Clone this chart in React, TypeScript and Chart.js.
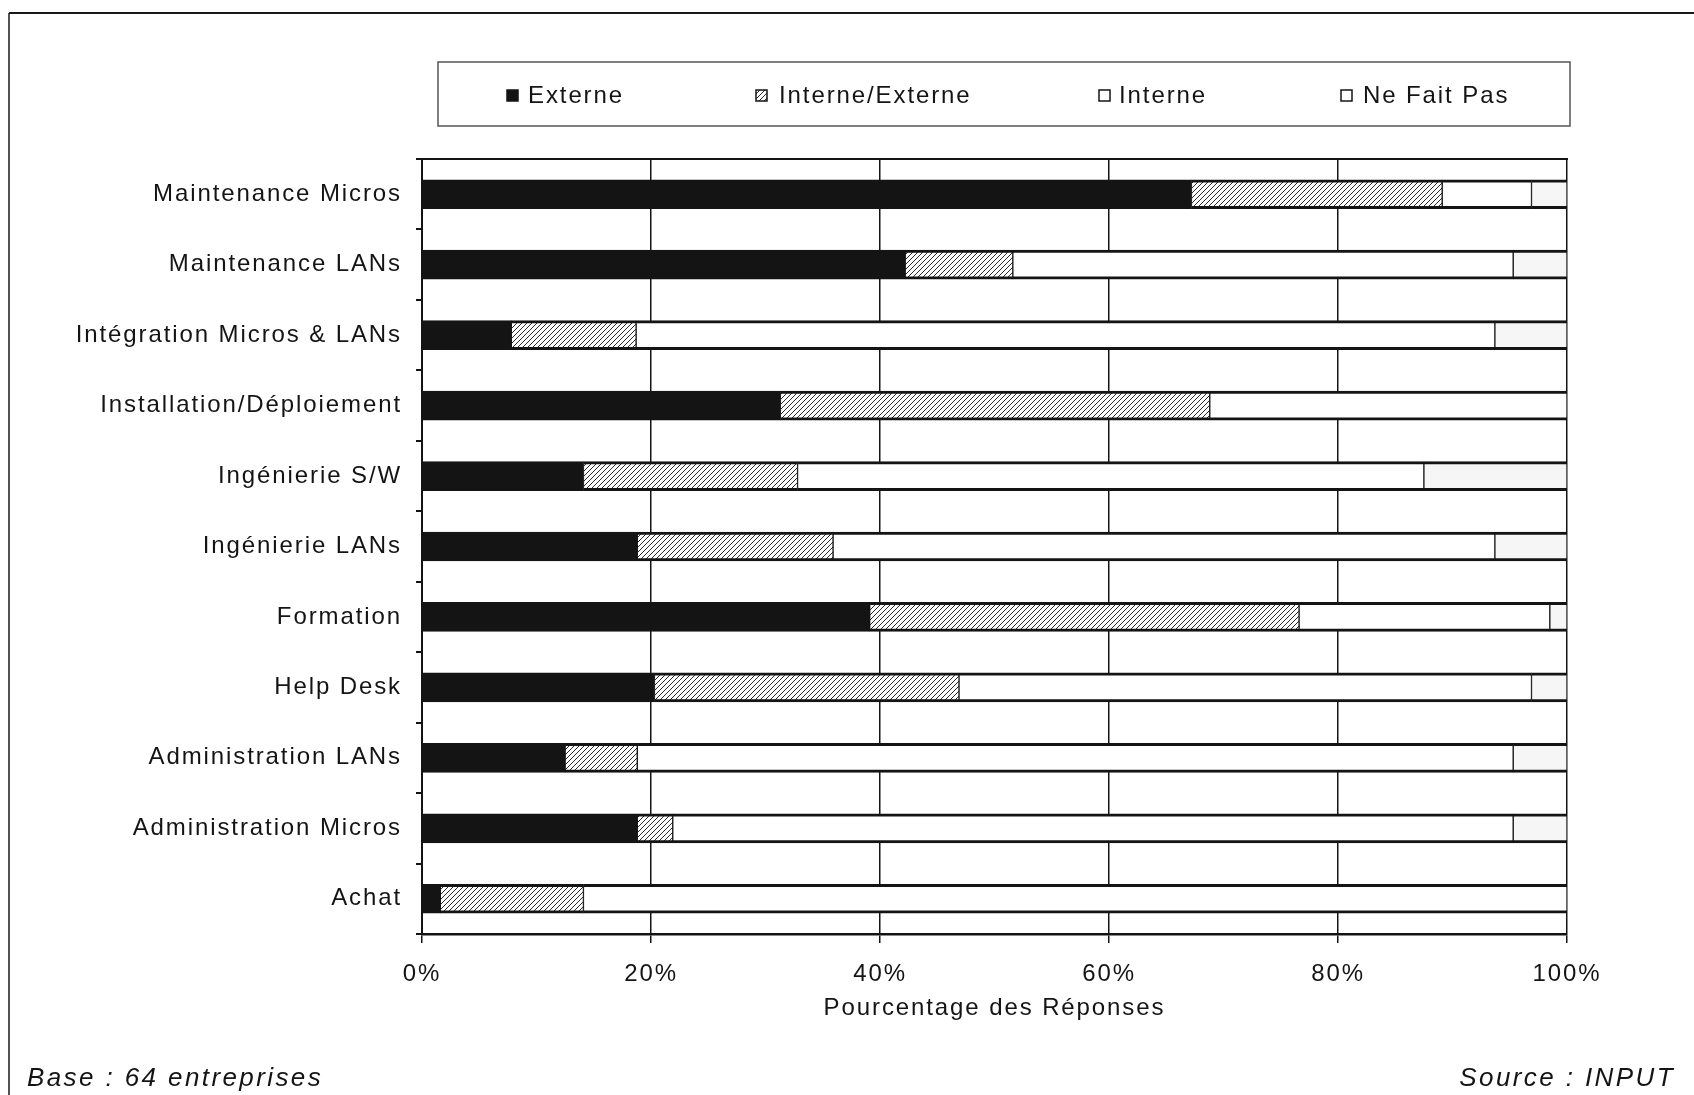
import { useEffect, useRef } from 'react';
import { Chart, registerables } from 'chart.js';

Chart.register(...registerables);

// Share of responses (%) per service, 64 companies surveyed
const categories = [
  'Maintenance Micros',
  'Maintenance LANs',
  'Intégration Micros & LANs',
  'Installation/Déploiement',
  'Ingénierie S/W',
  'Ingénierie LANs',
  'Formation',
  'Help Desk',
  'Administration LANs',
  'Administration Micros',
  'Achat',
];
const externe = [67.2, 42.2, 7.8, 31.3, 14.1, 18.8, 39.1, 20.3, 12.5, 18.8, 1.6];
const interneExterne = [21.9, 9.4, 10.9, 37.5, 18.7, 17.1, 37.5, 26.6, 6.3, 3.1, 12.5];
const interne = [7.8, 43.7, 75.0, 31.2, 54.7, 57.8, 21.9, 50.0, 76.5, 73.4, 85.9];
const neFaitPas = [3.1, 4.7, 6.3, 0, 12.5, 6.3, 1.5, 3.1, 4.7, 4.7, 0];

const seriesLabels = ['Externe', 'Interne/Externe', 'Interne', 'Ne Fait Pas'];
const xTickValues = [0, 20, 40, 60, 80, 100];
const xTitle = 'Pourcentage des Réponses';
const footLeft = 'Base : 64 entreprises';
const footRight = 'Source : INPUT';

const FONT = '"Liberation Sans", Arial, sans-serif';
const INK = '#141414';
const SPACING = '1.9px';

function makeHatch(): CanvasPattern | string {
  const c = document.createElement('canvas');
  c.width = 5;
  c.height = 5;
  const g = c.getContext('2d');
  if (!g) return '#bbb';
  g.fillStyle = '#ffffff';
  g.fillRect(0, 0, 5, 5);
  g.strokeStyle = '#2a2a2a';
  g.lineWidth = 1;
  g.beginPath();
  g.moveTo(0, 5);
  g.lineTo(5, 0);
  g.moveTo(-1, 1);
  g.lineTo(1, -1);
  g.moveTo(4, 6);
  g.lineTo(6, 4);
  g.stroke();
  const p = g.createPattern(c, 'repeat');
  return p || '#bbb';
}

export default function App() {
  const canvasRef = useRef<HTMLCanvasElement | null>(null);

  useEffect(() => {
    const canvas = canvasRef.current;
    if (!canvas) return;
    const hatch = makeHatch();
    const barBorder = { top: 3, bottom: 3, left: 1, right: 1 };
    const common = {
      borderColor: INK,
      borderWidth: barBorder,
      borderSkipped: false,
      barThickness: 29,
    };

    const decor = {
      id: 'decor',
      beforeDraw(chart: any) {
        const ctx = chart.ctx;
        ctx.save();
        ctx.fillStyle = '#ffffff';
        ctx.fillRect(0, 0, chart.width, chart.height);
        ctx.restore();
        ctx.letterSpacing = SPACING;
      },
      afterDraw(chart: any) {
        const ctx = chart.ctx;
        const a = chart.chartArea;
        ctx.save();
        // plot top border
        ctx.strokeStyle = INK;
        ctx.lineWidth = 2;
        ctx.beginPath();
        ctx.moveTo(a.left, a.top);
        ctx.lineTo(a.right + 1, a.top);
        ctx.stroke();

        // outer frame
        ctx.lineWidth = 2;
        ctx.strokeStyle = '#1a1a1a';
        ctx.beginPath();
        ctx.moveTo(9, 13);
        ctx.lineTo(chart.width, 13);
        ctx.stroke();
        ctx.lineWidth = 1.5;
        ctx.beginPath();
        ctx.moveTo(9, 13);
        ctx.lineTo(9, chart.height);
        ctx.stroke();

        // legend box
        ctx.strokeStyle = '#555';
        ctx.lineWidth = 1.5;
        ctx.strokeRect(438, 62, 1132, 64);

        const items = [
          { mx: 507, tx: 528, fill: INK as any },
          { mx: 756, tx: 779, fill: hatch as any },
          { mx: 1099, tx: 1119, fill: '#ffffff' as any },
          { mx: 1341, tx: 1363, fill: '#ffffff' as any },
        ];
        ctx.font = `24px ${FONT}`;
        (ctx as any).letterSpacing = SPACING;
        ctx.textBaseline = 'middle';
        ctx.textAlign = 'left';
        items.forEach((it, i) => {
          ctx.fillStyle = it.fill;
          ctx.fillRect(it.mx, 90, 11, 11);
          ctx.strokeStyle = INK;
          ctx.lineWidth = 1.5;
          ctx.strokeRect(it.mx, 90, 11, 11);
          ctx.fillStyle = INK;
          ctx.fillText(seriesLabels[i], it.tx, 96);
        });

        // footer notes
        ctx.font = `italic 26px ${FONT}`;
        (ctx as any).letterSpacing = '2.4px';
        ctx.textAlign = 'left';
        ctx.fillText(footLeft, 27, 1079);
        ctx.textAlign = 'right';
        ctx.fillText(footRight, 1675, 1079);
        ctx.restore();
      },
    };

    const chart = new Chart(canvas, {
      type: 'bar',
      data: {
        labels: categories,
        datasets: [
          { label: seriesLabels[0], data: externe, backgroundColor: INK, ...common },
          { label: seriesLabels[1], data: interneExterne, backgroundColor: hatch, ...common },
          { label: seriesLabels[2], data: interne, backgroundColor: '#ffffff', ...common },
          { label: seriesLabels[3], data: neFaitPas, backgroundColor: '#f6f6f6', ...common },
        ] as any,
      },
      options: {
        indexAxis: 'y',
        animation: false,
        responsive: false,
        layout: { padding: { left: 0, right: 127, top: 159, bottom: 0 } },
        plugins: {
          legend: { display: false },
          tooltip: { enabled: false },
        },
        scales: {
          x: {
            stacked: true,
            min: 0,
            max: 100,
            afterBuildTicks: (s: any) => {
              s.ticks = xTickValues.map((v) => ({ value: v }));
            },
            ticks: {
              callback: (v: any) => `${v}%`,
              color: INK,
              font: { family: FONT, size: 24 },
              padding: 17,
              maxRotation: 0,
            },
            grid: { color: INK, lineWidth: 1.5, tickLength: 9, drawTicks: true },
            border: { color: INK, width: 2.5 },
            title: {
              display: true,
              text: xTitle,
              color: INK,
              font: { family: FONT, size: 24 },
              padding: { top: 0, bottom: 72 },
            },
            afterFit: (s: any) => {
              s.height = 161;
            },
          },
          y: {
            stacked: true,
            ticks: {
              color: INK,
              font: { family: FONT, size: 24 },
              padding: 14,
            },
            grid: {
              drawOnChartArea: false,
              drawTicks: true,
              tickLength: 6,
              color: INK,
              lineWidth: 2,
              offset: true,
            },
            border: { color: INK, width: 2 },
            afterFit: (s: any) => {
              s.width = 422;
            },
          },
        },
      } as any,
      plugins: [decor],
    });

    return () => chart.destroy();
  }, []);

  return (
    <div style={{ position: 'absolute', left: 0, top: 0, width: 1694, height: 1095, background: '#fff' }}>
      <canvas ref={canvasRef} width={1694} height={1095} style={{ display: 'block' }} />
    </div>
  );
}
